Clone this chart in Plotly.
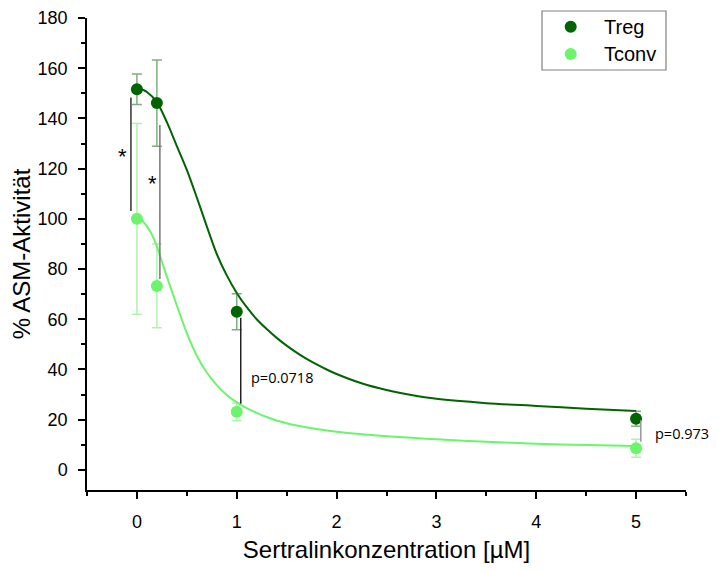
import plotly.graph_objects as go

# Measured points
conc = [0, 0.2, 1, 5]
treg_mean = [151.6, 146.1, 63.0, 20.4]
treg_err = [6.1, 17.2, 7.2, 3.0]
tconv_mean = [100.0, 73.3, 23.2, 8.6]
tconv_err = [38.0, 16.7, 3.5, 3.6]

# Fitted curves
treg_fit_x = [0, 0.1, 0.2, 0.3, 0.4, 0.5, 0.6, 0.7, 0.8, 0.9, 1.0, 1.1, 1.2, 1.3, 1.4, 1.5, 1.6,
              1.7, 1.8, 1.9, 2.0, 2.25, 2.5, 2.75, 3.0, 3.5, 4.0, 4.5, 5.0]
treg_fit_y = [152.5, 150.5, 146.5, 138.5, 129.0, 119.5, 108.5, 97.0, 86.0, 77.5, 70.5, 64.8, 60.0,
              56.1, 52.6, 49.5, 46.7, 44.2, 42.0, 40.0, 38.2, 34.5, 31.8, 29.8, 28.3, 26.6, 25.5,
              24.4, 23.5]
tconv_fit_x = [0, 0.05, 0.1, 0.15, 0.2, 0.25, 0.3, 0.4, 0.5, 0.6, 0.7, 0.8, 0.9, 1.0, 1.1, 1.2,
               1.3, 1.4, 1.5, 1.6, 1.8, 2.0, 2.25, 2.5, 2.75, 3.0, 3.5, 4.0, 4.5, 5.0]
tconv_fit_y = [100.5, 99.5, 97.0, 93.8, 89.0, 83.0, 77.0, 65.5, 54.5, 45.5, 38.8, 33.8, 29.8, 26.9,
               24.6, 22.7, 21.1, 19.7, 18.6, 17.7, 16.3, 15.2, 14.2, 13.4, 12.8, 12.2, 11.2, 10.4,
               9.9, 9.5]

# Significance brackets: x, y0, y1, label, label x, label y
sig_x = [-0.06, 0.23, 1.04, 5.047]
sig_y0 = [103.1, 76.0, 26.4, 11.2]
sig_y1 = [148.3, 137.4, 60.6, 19.8]
sig_colors = ["#333333", "#777777", "#222222", "#999999"]
sig_labels = ["*", "*", "p=0.0718", "p=0.973"]
sig_lab_x = [-0.14, 0.157, 1.12, 5.17]
sig_lab_y = [125.0, 114.0, 36.9, 14.5]

x_ticks = [0, 1, 2, 3, 4, 5]
y_ticks = [0, 20, 40, 60, 80, 100, 120, 140, 160, 180]

series_names = ["Treg", "Tconv"]
DARK = "#006400"
LIGHT = "#6cf46c"
series_colors = [DARK, LIGHT]

fig = go.Figure()

fig.add_trace(go.Scatter(x=treg_fit_x, y=treg_fit_y, mode="lines",
                         line=dict(color=DARK, width=2, shape="spline", smoothing=0.8),
                         showlegend=False, hoverinfo="skip"))
fig.add_trace(go.Scatter(x=tconv_fit_x, y=tconv_fit_y, mode="lines",
                         line=dict(color=LIGHT, width=2, shape="spline", smoothing=0.8),
                         showlegend=False, hoverinfo="skip"))

fig.add_trace(go.Scatter(x=conc, y=treg_mean, mode="markers", name="Treg", showlegend=False,
                         marker=dict(color=DARK, size=12),
                         error_y=dict(type="data", array=treg_err, visible=True,
                                      color="rgba(40,120,40,0.6)", thickness=1.5, width=5)))
fig.add_trace(go.Scatter(x=conc, y=tconv_mean, mode="markers", name="Tconv", showlegend=False,
                         marker=dict(color=LIGHT, size=12),
                         error_y=dict(type="data", array=tconv_err, visible=True,
                                      color="rgba(120,235,120,0.6)", thickness=1.5, width=5)))

for i in range(len(sig_x)):
    fig.add_shape(type="line", x0=sig_x[i], x1=sig_x[i], y0=sig_y0[i], y1=sig_y1[i],
                  xref="x", yref="y", line=dict(color=sig_colors[i], width=1.5))
    is_star = sig_labels[i] == "*"
    fig.add_annotation(x=sig_lab_x[i], y=sig_lab_y[i], text=sig_labels[i], showarrow=False,
                       xanchor="center" if is_star else "left", yanchor="middle",
                       font=dict(family="Liberation Sans, Arial" if is_star else "Open Sans",
                                 size=22 if is_star else 14.5, color="black"))

# Legend box (drawn in paper coordinates; plot area spans fig y 10..482)
PH = 472.0
def py(fy):
    return (482.0 - fy) / PH

fig.add_shape(type="rect", xref="paper", yref="paper", x0=0.7596, x1=0.9666, y0=py(62), y1=py(3),
              line=dict(color="#808080", width=1.2), fillcolor="white", layer="above")
leg_y = [py(18.7), py(46)]
for i in range(2):
    fig.add_shape(type="circle", xref="paper", yref="paper", xsizemode="pixel", ysizemode="pixel",
                  xanchor=0.8075, yanchor=leg_y[i], x0=-6, x1=6, y0=-6, y1=6,
                  line=dict(width=0), fillcolor=series_colors[i], layer="above")
    fig.add_annotation(xref="paper", yref="paper", x=0.8598, y=leg_y[i], text=series_names[i],
                       showarrow=False, xanchor="left", yanchor="middle",
                       font=dict(size=20, color="black"))

fig.update_xaxes(range=[-0.5, 5.5], tickvals=x_ticks, ticks="outside", ticklen=7, tickwidth=1.5,
                 showline=True, linecolor="black", linewidth=1.5, showgrid=False, zeroline=False,
                 automargin=False, ticklabelstandoff=8, ticklabeloverflow="allow",
                 minor=dict(dtick=0.5, tick0=-0.5, ticks="outside", ticklen=4, tickwidth=1.5, tickcolor="black", showgrid=False),
                 tickcolor="black", tickfont=dict(size=18, color="black"),
                 title=dict(text="Sertralinkonzentration [µM]", font=dict(size=24, color="black"), standoff=10))
fig.update_yaxes(range=[-8, 180], tickvals=y_ticks, ticks="outside", ticklen=7, tickwidth=1.5,
                 showline=True, linecolor="black", linewidth=1.5, showgrid=False, zeroline=False,
                 automargin=False, ticklabelstandoff=7, ticklabeloverflow="allow",
                 minor=dict(dtick=10, tick0=0, ticks="outside", ticklen=4, tickwidth=1.5, tickcolor="black", showgrid=False),
                 tickcolor="black", tickfont=dict(size=18, color="black"),
                 title=dict(text="% ASM-Aktivität", font=dict(size=24, color="black"), standoff=5))

fig.update_layout(
    width=701, height=555,
    margin=dict(l=79, r=23, t=10, b=73),
    paper_bgcolor="white", plot_bgcolor="white",
    font=dict(family="Liberation Sans, Arial", color="black"),
    showlegend=False,
)

fig.write_html("out.html")
